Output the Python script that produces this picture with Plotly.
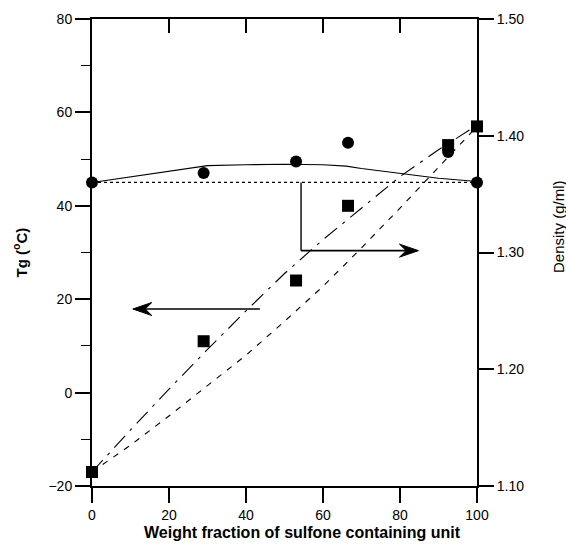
import plotly.graph_objects as go

# ---- data ----
wf_points = [0, 29, 53, 66.5, 92.5, 100]
tg_values = [45, 47, 49.5, 53.5, 51.5, 45]
density_values = [1.112, 1.224, 1.276, 1.340, 1.392, 1.408]

tg_fit_x = [0, 10, 20, 30, 40, 50, 60, 66, 70, 81, 90, 100]
tg_fit_y = [45, 46.2, 47.4, 48.6, 48.8, 48.9, 48.8, 48.5, 48.0, 46.8, 45.9, 45.2]

tg_ref_x = [0, 100]
tg_ref_y = [45, 45]

dens_x = [0, 10, 20, 30, 40, 50, 60, 70, 80, 90, 100]
dens_upper = [1.112, 1.148, 1.183, 1.217, 1.250, 1.282, 1.311, 1.338, 1.365, 1.388, 1.409]
dens_lower = [1.112, 1.135, 1.160, 1.186, 1.212, 1.241, 1.271, 1.304, 1.338, 1.373, 1.408]

x_ticks = [0, 20, 40, 60, 80, 100]
top_ticks = [20, 40, 60, 80]
tg_ticks = [-20, 0, 20, 40, 60, 80]
dens_ticks = [1.10, 1.20, 1.30, 1.40, 1.50]

# arrows (in Tg-axis units)
left_arrow = dict(tail=(43.6, 17.9), tip=(10.6, 17.9))
right_arrow_start = (54.3, 45.0)
right_arrow = dict(tail=(54.3, 30.4), tip=(84.8, 30.4))

fig = go.Figure()

fig.add_trace(go.Scatter(x=tg_ref_x, y=tg_ref_y, mode="lines",
                         line=dict(color="black", width=1.2, dash="dot"),
                         xaxis="x", yaxis="y", showlegend=False))
fig.add_trace(go.Scatter(x=tg_fit_x, y=tg_fit_y, mode="lines",
                         line=dict(color="black", width=1.1),
                         xaxis="x", yaxis="y", showlegend=False))
fig.add_trace(go.Scatter(x=dens_x, y=dens_upper, mode="lines",
                         line=dict(color="black", width=1.1, dash="16px,7px,3px,7px"),
                         xaxis="x", yaxis="y2", showlegend=False))
fig.add_trace(go.Scatter(x=dens_x, y=dens_lower, mode="lines",
                         line=dict(color="black", width=1.1, dash="6px,7px"),
                         xaxis="x", yaxis="y2", showlegend=False))
fig.add_trace(go.Scatter(x=wf_points, y=tg_values, mode="markers",
                         marker=dict(symbol="circle", size=12, color="black"),
                         cliponaxis=False, xaxis="x", yaxis="y", showlegend=False))
fig.add_trace(go.Scatter(x=wf_points, y=density_values, mode="markers",
                         marker=dict(symbol="square", size=12, color="black"),
                         cliponaxis=False, xaxis="x", yaxis="y2", showlegend=False))

# arrow shapes
px_x = 100 / 385.0   # x units per pixel
px_y = 100 / 467.0   # Tg units per pixel
L = 19 * px_x
H = 6.5 * px_y


def add_arrow(tail, tip):
    d = 1 if tip[0] > tail[0] else -1
    fig.add_shape(type="line", x0=tail[0], y0=tail[1], x1=tip[0] - d * L * 0.6, y1=tip[1],
                  xref="x", yref="y", line=dict(color="black", width=1.6))
    tx, ty = tip
    path = (f"M {tx},{ty} L {tx - d * L},{ty + H} L {tx - d * L * 0.65},{ty} "
            f"L {tx - d * L},{ty - H} Z")
    fig.add_shape(type="path", path=path, xref="x", yref="y",
                  fillcolor="black", line=dict(color="black", width=1))


add_arrow(left_arrow["tail"], left_arrow["tip"])
fig.add_shape(type="line", x0=right_arrow_start[0], y0=right_arrow_start[1],
              x1=right_arrow["tail"][0], y1=right_arrow["tail"][1],
              xref="x", yref="y", line=dict(color="black", width=1.4))
add_arrow(right_arrow["tail"], right_arrow["tip"])

font_family = "Liberation Sans, Arial, sans-serif"
fig.update_layout(
    width=566, height=544,
    margin=dict(l=92, r=89, t=19, b=58, autoexpand=False),
    plot_bgcolor="white", paper_bgcolor="white",
    font=dict(family=font_family, size=14, color="black"),
    xaxis=dict(range=[0, 100], tickvals=x_ticks, ticks="outside", ticklen=15,
               tickwidth=1.5, tickcolor="black", showline=True, linewidth=1.5,
               linecolor="black", showgrid=False, zeroline=False, anchor="y",
               tickfont=dict(size=14), automargin=False),
    xaxis2=dict(range=[0, 100], tickvals=top_ticks, ticks="inside", ticklen=14,
                tickwidth=1.5, tickcolor="black", showline=True, linewidth=1.5,
                linecolor="black", showgrid=False, zeroline=False, showticklabels=False,
                overlaying="x", side="top", anchor="y", automargin=False),
    yaxis=dict(range=[-20, 80], tickvals=tg_ticks, ticks="outside", ticklen=15,
               tickwidth=1.5, tickcolor="black", showline=True, linewidth=2,
               linecolor="black", showgrid=False, zeroline=False,
               minor=dict(dtick=10, ticks="outside", ticklen=9, tickwidth=1.3,
                          tickcolor="black", showgrid=False),
               tickfont=dict(size=14), automargin=False),
    yaxis2=dict(range=[1.10, 1.50], tickvals=dens_ticks, tickformat=".2f",
                ticks="outside", ticklen=15, tickwidth=1.5, tickcolor="black",
                showline=True, linewidth=2, linecolor="black", showgrid=False,
                zeroline=False, overlaying="y", side="right", anchor="x",
                tickfont=dict(size=14), automargin=False),
)
# dummy trace to activate xaxis2
fig.add_trace(go.Scatter(x=[None], y=[None], xaxis="x2", yaxis="y", showlegend=False))

fig.add_annotation(text="<b>Weight fraction of sulfone containing unit</b>",
                   xref="paper", yref="paper", x=0.548, y=-0.1006,
                   xanchor="center", yanchor="middle", showarrow=False,
                   font=dict(size=16, family=font_family))
fig.add_annotation(text="<b>Tg (<sup>o</sup>C)</b>", textangle=-90,
                   xref="paper", yref="paper", x=-0.187, y=0.5,
                   xanchor="center", yanchor="middle", showarrow=False,
                   font=dict(size=15, family=font_family))
fig.add_annotation(text="Density (g/ml)", textangle=-90,
                   xref="paper", yref="paper", x=1.2104, y=0.5546,
                   xanchor="center", yanchor="middle", showarrow=False,
                   font=dict(size=15, family=font_family))

fig.write_html("out.html", config={"displayModeBar": False},
               post_script="document.body.style.margin='0px';")
